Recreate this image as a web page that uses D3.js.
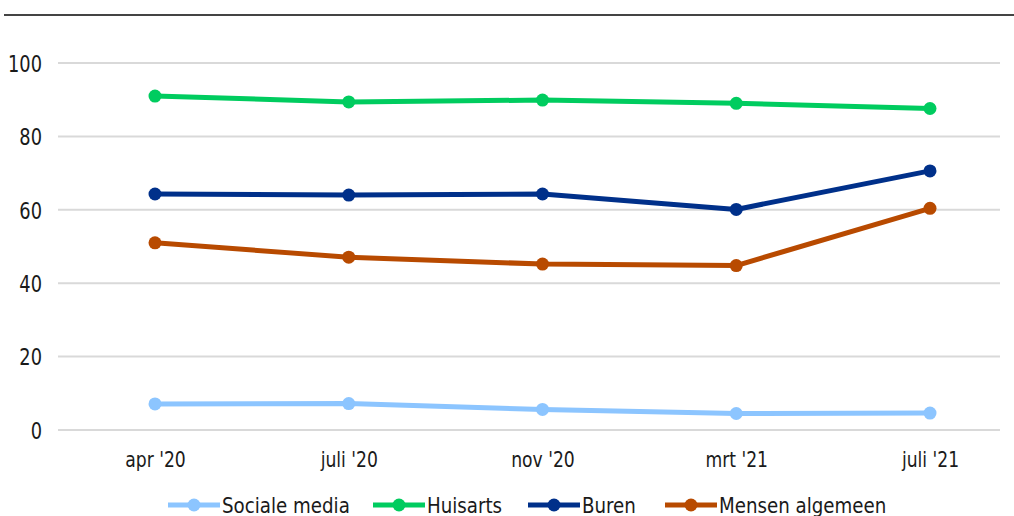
<!DOCTYPE html>
<html>
<head>
<meta charset="utf-8">
<script src="https://cdn.jsdelivr.net/npm/d3@7"></script>
<style>
  html, body { margin: 0; padding: 0; background: #fff; }
  svg { display: block; }
  text { font-family: "Liberation Sans Narrow", "DejaVu Sans Condensed", sans-serif; fill: #1a1a1a; }
</style>
</head>
<body>
<svg id="chart" width="1014" height="516"></svg>
<script>
const categories = ["apr '20", "juli '20", "nov '20", "mrt '21", "juli '21"];
const seriesNames = ["Sociale media", "Huisarts", "Buren", "Mensen algemeen"];
const socialeMedia = [7.1, 7.2, 5.6, 4.5, 4.6];
const huisarts = [91.0, 89.4, 89.9, 89.0, 87.6];
const buren = [64.3, 64.0, 64.3, 60.1, 70.6];
const mensenAlgemeen = [51.0, 47.1, 45.2, 44.8, 60.4];
const yTicks = [0, 20, 40, 60, 80, 100];
const colors = ["#8cc5ff", "#00cc5f", "#00308a", "#b84a00"];

const series = [socialeMedia, huisarts, buren, mensenAlgemeen].map((values, i) => ({
  name: seriesNames[i], values, color: colors[i]
}));

const svg = d3.select("#chart");
const W = 1014, H = 516;
const plot = { left: 58, right: 1000, top: 63, bottom: 430 };

// top rule
svg.append("line")
  .attr("x1", 4).attr("x2", W).attr("y1", 15).attr("y2", 15)
  .attr("stroke", "#444").attr("stroke-width", 2);

const x = d3.scalePoint().domain(categories).range([155, 930]);
const y = d3.scaleLinear().domain([0, 100]).range([plot.bottom, plot.top]);

// gridlines
svg.append("g").selectAll("line").data(yTicks).join("line")
  .attr("x1", plot.left).attr("x2", plot.right)
  .attr("y1", d => y(d)).attr("y2", d => y(d))
  .attr("stroke", "#d9d9d9").attr("stroke-width", 2);

// y axis labels
const yAxis = svg.append("g").attr("transform", `translate(42,0)`)
  .call(d3.axisLeft(y).tickValues(yTicks).tickSize(0).tickPadding(0));
yAxis.select(".domain").remove();
yAxis.attr("font-family", null).attr("font-size", null);
yAxis.selectAll("text").attr("font-size", 23).attr("x", 0).attr("dy", "0.36em")
  .attr("transform", "scale(0.86,1)");

// x axis labels
const xAxis = svg.append("g").attr("transform", `translate(0,467)`)
  .call(d3.axisBottom(x).tickSize(0).tickPadding(0));
xAxis.select(".domain").remove();
xAxis.attr("font-family", null).attr("font-size", null);
xAxis.selectAll("text").attr("font-size", 21).attr("y", 0).attr("dy", 0)
  .attr("transform", "scale(0.91,1)");
svg.selectAll(".tick text").attr("fill", "#1a1a1a");

// lines
const line = d3.line().x((d, i) => x(categories[i])).y(d => y(d));
series.forEach(s => {
  svg.append("path").datum(s.values)
    .attr("d", line)
    .attr("fill", "none").attr("stroke", s.color)
    .attr("stroke-width", 5).attr("stroke-linejoin", "round");
  svg.append("g").selectAll("circle").data(s.values).join("circle")
    .attr("cx", (d, i) => x(categories[i])).attr("cy", d => y(d))
    .attr("r", 6.5).attr("fill", s.color);
});

// legend
const legendX = [168, 373, 528, 665];
const legendY = 505;
const lineLen = 52;
const lg = svg.append("g");
series.forEach((s, i) => {
  const g = lg.append("g").attr("transform", `translate(${legendX[i]},${legendY})`);
  g.append("line").attr("x1", 0).attr("x2", lineLen).attr("y1", 0).attr("y2", 0)
    .attr("stroke", s.color).attr("stroke-width", 5);
  g.append("circle").attr("cx", lineLen / 2).attr("cy", 0).attr("r", 6.5).attr("fill", s.color);
  g.append("g").attr("transform", `translate(${lineLen + 2},8) scale(0.965,1)`)
    .append("text").attr("x", 0).attr("y", 0)
    .attr("font-size", 21).text(s.name);
});
</script>
</body>
</html>
